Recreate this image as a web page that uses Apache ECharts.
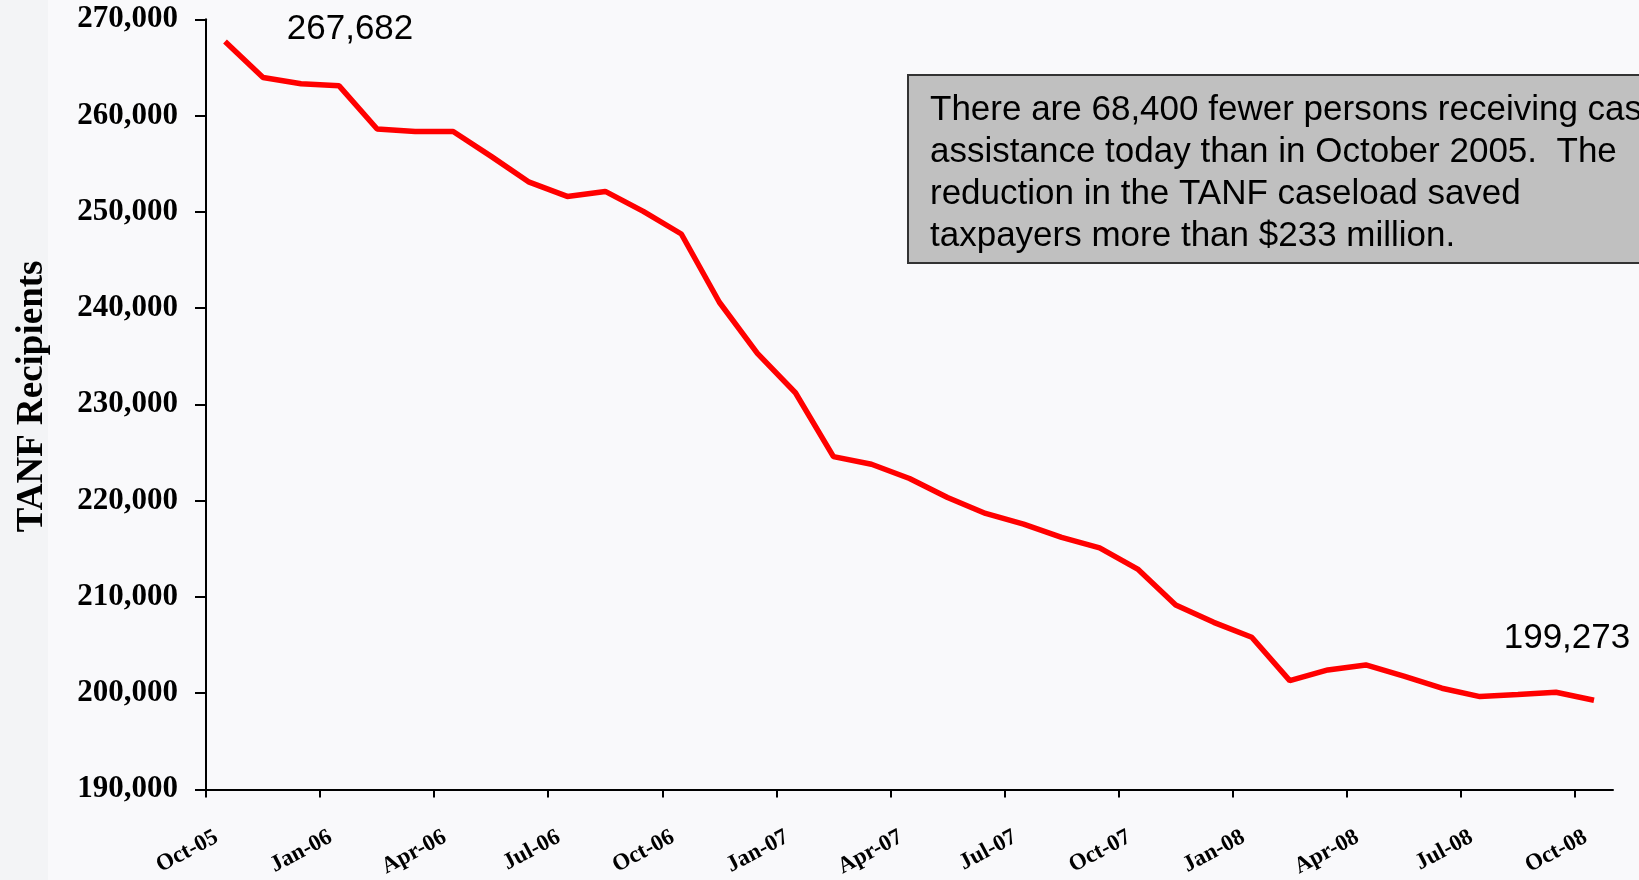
<!DOCTYPE html>
<html>
<head>
<meta charset="utf-8">
<script src="https://cdn.jsdelivr.net/npm/echarts@6/dist/echarts.min.js"></script>
<style>
  html, body { margin: 0; padding: 0; background: #f9f9fb; }
  #chart { width: 1639px; height: 880px; }
</style>
</head>
<body>
<div id="chart"></div>
<script>
// ---- data ----
const months = [
  'Oct-05','Nov-05','Dec-05','Jan-06','Feb-06','Mar-06','Apr-06','May-06','Jun-06',
  'Jul-06','Aug-06','Sep-06','Oct-06','Nov-06','Dec-06','Jan-07','Feb-07','Mar-07',
  'Apr-07','May-07','Jun-07','Jul-07','Aug-07','Sep-07','Oct-07','Nov-07','Dec-07',
  'Jan-08','Feb-08','Mar-08','Apr-08','May-08','Jun-08','Jul-08','Aug-08','Sep-08','Oct-08'
];
const recipients = [
  267682, 263950, 263300, 263090, 258600, 258350, 258340, 255760, 253080,
  251600, 252120, 250050, 247700, 240610, 235300, 231210, 224580, 223780,
  222300, 220330, 218670, 217560, 216180, 215100, 212890, 209160, 207360,
  205810, 201310, 202420, 202940, 201770, 200520, 199650, 199860, 200100, 199273
];
const xTickLabels = ['Oct-05','Jan-06','Apr-06','Jul-06','Oct-06','Jan-07','Apr-07',
  'Jul-07','Oct-07','Jan-08','Apr-08','Jul-08','Oct-08'];
const yMin = 190000, yMax = 270000, yStep = 10000;
const yAxisTitle = 'TANF Recipients';
const noteLines = [
  'There are 68,400 fewer persons receiving cash',
  'assistance today than in October 2005.  The',
  'reduction in the TANF caseload saved',
  'taxpayers more than $233 million.'
];

// ---- chart ----
const serif = "'Liberation Serif', 'Times New Roman', serif";
const sans = "'Liberation Sans', Arial, sans-serif";
const tickPositions = xTickLabels.map(l => months.indexOf(l));
const fmt = v => v.toLocaleString('en-US');

const seriesData = recipients.map((v, i) => {
  const item = { value: v };
  if (i === 0) {
    item.label = { show: true, offset: [125, -12] };
  } else if (i === recipients.length - 1) {
    item.label = { show: true, offset: [-27, -62] };
  }
  return item;
});

const chart = echarts.init(document.getElementById('chart'), null, { renderer: 'canvas' });
chart.setOption({
  backgroundColor: '#f9f9fb',
  animation: false,
  grid: { left: 206, right: 26, top: 19.3, bottom: 89, containLabel: false },
  xAxis: [
    {
      type: 'category',
      data: months,
      boundaryGap: true,
      position: 'bottom',
      axisLine: { show: false },
      axisTick: { show: false },
      axisLabel: { show: false },
      splitLine: { show: false }
    },
    {
      type: 'value',
      min: 0,
      max: months.length,
      position: 'bottom',
      axisLine: { show: true, onZero: false, lineStyle: { color: '#000', width: 2 } },
      axisTick: { show: true, length: 8, lineStyle: { color: '#000', width: 2 }, customValues: tickPositions },
      axisLabel: {
        show: true,
        customValues: tickPositions,
        formatter: v => xTickLabels[tickPositions.indexOf(v)] || '',
        rotate: 28,
        margin: 52,
        padding: [0, -12, 0, 0],
        fontFamily: serif,
        fontWeight: 'bold',
        fontSize: 23,
        color: '#000'
      },
      splitLine: { show: false }
    }
  ],
  yAxis: {
    type: 'value',
    min: yMin,
    max: yMax,
    interval: yStep,
    name: yAxisTitle,
    nameLocation: 'middle',
    nameGap: 155,
    nameRotate: 90,
    nameTextStyle: { fontFamily: serif, fontWeight: 'bold', fontSize: 37, color: '#000', padding: [0, 0, 0, 16] },
    axisLine: { show: true, lineStyle: { color: '#000', width: 2 } },
    axisTick: { show: true, length: 11, lineStyle: { color: '#000', width: 2 } },
    axisLabel: {
      formatter: fmt,
      margin: 28,
      fontFamily: serif,
      fontWeight: 'bold',
      fontSize: 31,
      color: '#000'
    },
    splitLine: { show: false }
  },
  graphic: [
    {
      type: 'rect',
      left: 0, top: 0,
      shape: { x: 0, y: 0, width: 48, height: 880 },
      style: { fill: '#f3f4f6' },
      z: -1
    },
    {
      type: 'group',
      children: [
        {
          type: 'rect',
          shape: { x: 908, y: 75, width: 800, height: 188 },
          style: { fill: '#c0c0c0', stroke: '#333333', lineWidth: 2 }
        },
        {
          type: 'text',
          x: 930, y: 89.5,
          style: {
            text: noteLines.join('\n'),
            font: '35px ' + sans,
            lineHeight: 42,
            fill: '#000',
            textVerticalAlign: 'top'
          }
        }
      ]
    }
  ],
  series: [{
    type: 'line',
    xAxisIndex: 0,
    yAxisIndex: 0,
    data: seriesData,
    showSymbol: true,
    symbol: 'circle',
    symbolSize: 0,
    lineStyle: { color: '#ff0000', width: 5.5 },
    itemStyle: { color: '#ff0000' },
    label: {
      show: false,
      position: 'inside',
      formatter: p => fmt(p.value),
      fontFamily: sans,
      fontSize: 35,
      color: '#000'
    },
    emphasis: { disabled: true }
  }]
});
</script>
</body>
</html>
